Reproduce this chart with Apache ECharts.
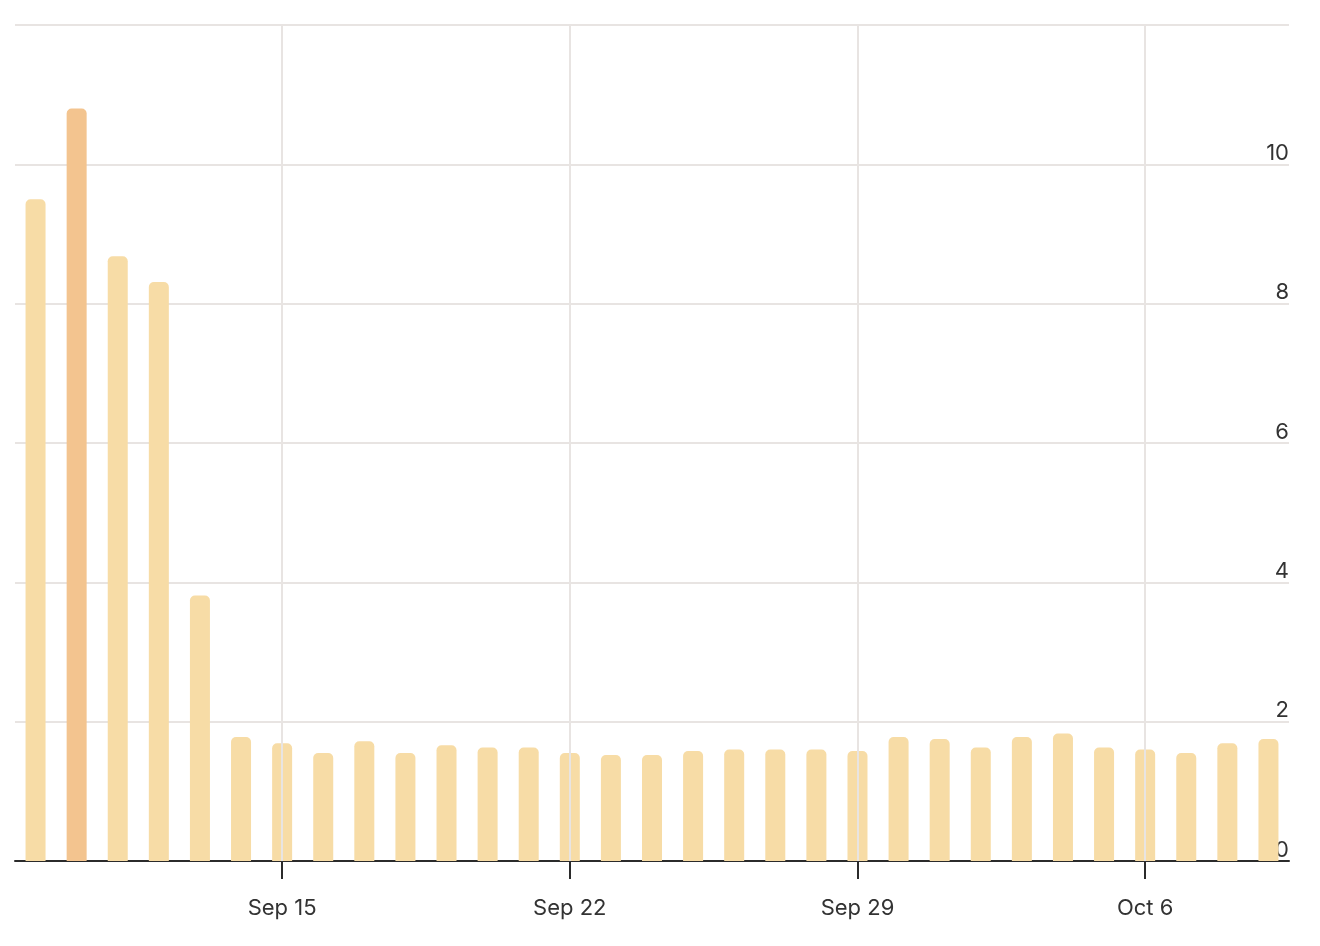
<!DOCTYPE html>
<html>
<head>
<meta charset="utf-8">
<script src="https://cdn.jsdelivr.net/npm/echarts@6/dist/echarts.min.js"></script>
<style>
html,body{margin:0;padding:0;background:#fff;}
#chart{width:1320px;height:946px;}
</style>
</head>
<body>
<div id="chart"></div>
<script>
const categories = ["Sep 9","Sep 10","Sep 11","Sep 12","Sep 13","Sep 14","Sep 15","Sep 16","Sep 17","Sep 18","Sep 19","Sep 20","Sep 21","Sep 22","Sep 23","Sep 24","Sep 25","Sep 26","Sep 27","Sep 28","Sep 29","Sep 30","Oct 1","Oct 2","Oct 3","Oct 4","Oct 5","Oct 6","Oct 7","Oct 8","Oct 9"];
const values = [9.5,10.8,8.68,8.31,3.81,1.78,1.69,1.55,1.72,1.55,1.66,1.63,1.63,1.55,1.52,1.52,1.58,1.6,1.6,1.6,1.58,1.78,1.75,1.63,1.78,1.83,1.63,1.6,1.55,1.69,1.75];
const highlightIndex = 1;
const shownLabels = ["Sep 15","Sep 22","Sep 29","Oct 6"];
const yTicks = [0,2,4,6,8,10];

const chart = echarts.init(document.getElementById('chart'));
const showIdx = (i) => shownLabels.includes(categories[i]);
const FONT = 'Inter';
chart.setOption({
  animation: false,
  grid: {left: 15, right: 31, top: 25, bottom: 85, containLabel: false},
  xAxis: {
    type: 'category',
    data: categories,
    axisLine: {lineStyle: {color: '#2b2b2b', width: 2}},
    axisTick: {show: true, alignWithLabel: true, length: 18, lineStyle: {color: '#2b2b2b', width: 2}, interval: (i) => showIdx(i)},
    axisLabel: {interval: (i) => showIdx(i), margin: 36, fontSize: 22, color: '#333', fontFamily: FONT},
    splitLine: {show: false}
  },
  yAxis: {
    type: 'value',
    position: 'right',
    min: 0, max: 12, interval: 2,
    axisLine: {show: false},
    axisTick: {show: false},
    splitLine: {lineStyle: {color: '#e8e4e2', width: 2}},
    axisLabel: {
      inside: true, margin: 0, fontSize: 22, color: '#333', fontFamily: FONT,
      verticalAlign: 'bottom', showMaxLabel: false,
      formatter: (v) => yTicks.includes(v) ? String(v) : ''
    }
  },
  series: [{
    type: 'line',
    data: [],
    z: 1,
    silent: true,
    markLine: {
      silent: true,
      symbol: ['none', 'none'],
      label: {show: false},
      lineStyle: {color: '#e8e4e2', width: 2, type: 'solid'},
      data: shownLabels.map((c) => ({xAxis: c}))
    }
  }, {
    type: 'bar',
    z: 3,
    barWidth: 20,
    data: values.map((v, i) => ({value: v, itemStyle: {color: i === highlightIndex ? '#f3c48f' : '#f7dca6'}})),
    itemStyle: {borderRadius: [5,5,0,0]}
  }]
});
</script>
</body>
</html>
